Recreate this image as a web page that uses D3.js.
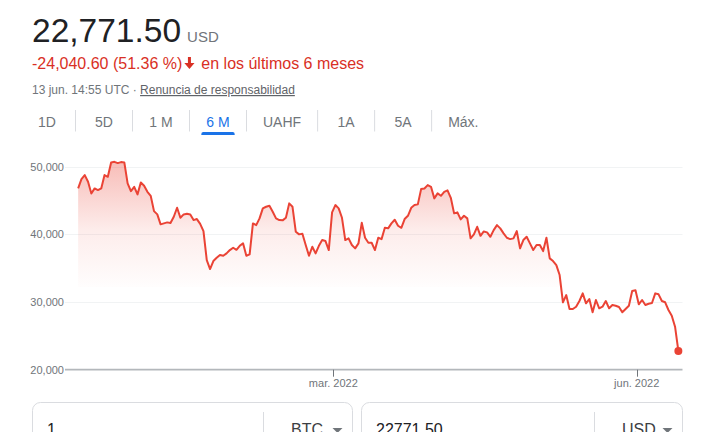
<!DOCTYPE html>
<html><head><meta charset="utf-8">
<script src="https://cdn.jsdelivr.net/npm/d3@7"></script>
<style>
html,body{margin:0;padding:0;background:#fff;overflow:hidden}
svg{display:block;font-family:"Liberation Sans",Arial,sans-serif}
</style></head><body>
<script>
// ---- data ----
const startDate = "2021-12-13";
const quoteTime = "14:55";
const prices = [46790,48170,48760,47770,46050,46790,46540,46790,48760,48510,
50630,50720,50530,50680,50630,47530,46390,47030,45910,47680,
47180,46290,45700,43440,42950,41480,41620,41770,41670,42600,
43930,42450,42950,43040,42950,42110,42260,41560,40490,36200,
34870,36060,36540,36940,36840,37190,37680,38020,37720,38310,
38670,36840,37040,41620,41370,42360,43840,44080,44220,43340,
42360,42110,42070,42450,44580,44080,40380,40000,40090,38420,
36840,38170,37190,38310,39160,39010,37680,43250,44330,43840,
42450,39160,39410,38420,37930,38670,41710,39500,38760,38760,
37680,39500,39300,40970,40890,41620,42160,41270,40970,42260,
42750,43930,44330,44430,46690,46790,47280,47030,45320,46050,
45700,46290,46500,45400,43100,43250,42210,42750,42360,39410,
40000,41120,39790,40430,40290,39640,40630,41370,40890,40150,
39500,39300,39410,40490,37930,39160,39640,38670,37680,38420,
38420,37530,39500,36450,36060,35460,33990,29960,31030,28970,
28970,29310,30150,31280,29810,30440,28480,30300,29070,29310,
30150,29070,29560,29450,29260,28480,28970,29450,31620,31730,
29660,30300,29560,29750,29850,31280,31140,30150,29960,28820,
27980,26350,22771.5];
const yTicks = [20000, 30000, 40000, 50000];
const xTickDates = ["2022-03-01", "2022-06-01"];
const xTickLabels = ["mar. 2022", "jun. 2022"];
const tabs = ["1D","5D","1 M","6 M","UAHF","1A","5A","Máx."];
const activeTab = "6 M";
const priceText = "22,771.50";
const currency = "USD";
const changeText = "-24,040.60 (51.36 %)";
const periodText = "en los últimos 6 meses";
const timeText = "13 jun. 14:55 UTC · ";
const linkText = "Renuncia de responsabilidad";
const fromAmount = "1", fromUnit = "BTC";
const toAmount = "22771.50", toUnit = "USD";

// ---- drawing ----
const W = 707, H = 432;
const parse = d3.timeParse("%Y-%m-%d");
const parseT = d3.timeParse("%Y-%m-%d %H:%M");
const t0 = parse(startDate);
const tq = parseT(startDate + " " + quoteTime);
const series = prices.map((v, i) => ({date: d3.timeDay.offset(tq, i), value: v}));

const svg = d3.select("body").append("svg").attr("width", W).attr("height", H);

const grey = "#70757a", dark = "#202124", red = "#d93025", lineRed = "#ea4335";

// header
const big = svg.append("text").attr("x", 32).attr("y", 42).attr("font-size", 33.5)
  .attr("fill", dark).text(priceText);
const bw = big.node().getComputedTextLength();
svg.append("text").attr("x", 32 + bw + 6).attr("y", 42).attr("font-size", 15)
  .attr("fill", grey).text(currency);

const ch = svg.append("text").attr("x", 32).attr("y", 69).attr("font-size", 16)
  .attr("fill", red).text(changeText);
const cw = ch.node().getComputedTextLength();
const ax = 32 + cw + 2;
svg.append("path")
  .attr("d", `M${ax+3.6},57 h3 v6 h3.6 l-5.1,6 l-5.1,-6 h3.6 z`)
  .attr("fill", red);
svg.append("text").attr("x", ax + 17).attr("y", 69).attr("font-size", 16)
  .attr("fill", red).text(periodText);

const info = svg.append("text").attr("x", 32).attr("y", 94).attr("font-size", 12).attr("fill", grey);
info.append("tspan").text(timeText);
info.append("tspan").attr("fill", "#5f6368").attr("text-decoration", "underline").text(linkText);

// tabs
let tx = 18.5;
tabs.forEach((t, i) => {
  const tt = svg.append("text").attr("y", 126.5).attr("font-size", 14)
    .attr("text-anchor", "middle")
    .attr("fill", t === activeTab ? "#1a73e8" : grey).text(t);
  const w = tt.node().getComputedTextLength();
  const tw = Math.max(57, w + 33);
  tt.attr("x", tx + tw / 2);
  if (t === activeTab) {
    const ux = tx + tw / 2 - (w + 10) / 2, uw = w + 10;
    svg.append("path")
      .attr("d", `M${ux},135 v-1 a2,2 0 0 1 2,-2 h${uw-4} a2,2 0 0 1 2,2 v1 z`)
      .attr("fill", "#1a73e8");
  }
  if (i < tabs.length - 1) {
    svg.append("line").attr("x1", tx + tw).attr("x2", tx + tw)
      .attr("y1", 110).attr("y2", 131.5).attr("stroke", "#dadce0").attr("stroke-width", 1);
  }
  tx += tw;
});

// chart scales
const x = d3.scaleTime().domain([t0, d3.timeDay.offset(t0, prices.length - 1)]).range([76.1, 676.3]);
const y = d3.scaleLinear().domain([20000, 50000]).range([369.7, 166.7]);
const gridL = 65, gridR = 682.5;

// gridlines
svg.append("g").selectAll("line").data(yTicks.filter(d => d !== 20000)).join("line")
  .attr("x1", gridL).attr("x2", gridR)
  .attr("y1", d => Math.round(y(d)) + 0.5).attr("y2", d => Math.round(y(d)) + 0.5)
  .attr("stroke", "#f1f3f4").attr("stroke-width", 1);

// y labels
svg.append("g").selectAll("text").data(yTicks).join("text")
  .attr("x", 64).attr("y", d => y(d)).attr("dy", "0.35em")
  .attr("text-anchor", "end").attr("font-size", 11).attr("fill", grey)
  .text(d => d3.format(",")(d));

// area gradient
const defs = svg.append("defs");
const grad = defs.append("linearGradient").attr("id", "fillGrad")
  .attr("gradientUnits", "userSpaceOnUse").attr("x1", 0).attr("x2", 0)
  .attr("y1", y(51000)).attr("y2", 287);
grad.append("stop").attr("offset", 0).attr("stop-color", lineRed).attr("stop-opacity", 0.36);
grad.append("stop").attr("offset", 0.55).attr("stop-color", lineRed).attr("stop-opacity", 0.1);
grad.append("stop").attr("offset", 1).attr("stop-color", lineRed).attr("stop-opacity", 0.01);

const areaBase = y.invert(287);
svg.append("path").datum(series)
  .attr("d", d3.area().x(d => x(d.date)).y0(y(areaBase)).y1(d => Math.min(y(d.value), y(areaBase))))
  .attr("fill", "url(#fillGrad)");

// axis line
svg.append("line").attr("x1", gridL).attr("x2", gridR)
  .attr("y1", y(20000)).attr("y2", y(20000))
  .attr("stroke", "#b3b7bb").attr("stroke-width", 1.7);

// x ticks
const xt = xTickDates.map((d, i) => ({date: parse(d), label: xTickLabels[i]}));
svg.append("g").selectAll("line").data(xt).join("line")
  .attr("x1", d => Math.round(x(d.date)) + 0.5).attr("x2", d => Math.round(x(d.date)) + 0.5)
  .attr("y1", y(20000)).attr("y2", y(20000) + 7)
  .attr("stroke", grey).attr("stroke-width", 1);
svg.append("g").selectAll("text").data(xt).join("text")
  .attr("x", d => x(d.date)).attr("y", 387)
  .attr("text-anchor", "middle").attr("font-size", 11).attr("fill", grey)
  .text(d => d.label);

// line
svg.append("path").datum(series)
  .attr("d", d3.line().x(d => x(d.date)).y(d => y(d.value)))
  .attr("fill", "none").attr("stroke", lineRed).attr("stroke-width", 2)
  .attr("stroke-linejoin", "round");
const last = series[series.length - 1];
svg.append("circle").attr("cx", x(last.date)).attr("cy", y(last.value)).attr("r", 4)
  .attr("fill", lineRed);

// converter boxes
function box(x0, x1, div, amount, unit) {
  svg.append("rect").attr("x", x0 + 0.5).attr("y", 402.5).attr("width", x1 - x0)
    .attr("height", 60).attr("rx", 8).attr("fill", "#fff").attr("stroke", "#dadce0");
  svg.append("line").attr("x1", div + 0.5).attr("x2", div + 0.5).attr("y1", 412).attr("y2", 440)
    .attr("stroke", "#dadce0");
  svg.append("text").attr("x", x0 + 15).attr("y", 434.5).attr("font-size", 16)
    .attr("fill", dark).text(amount);
  svg.append("text").attr("x", div + 28).attr("y", 434.5).attr("font-size", 16)
    .attr("fill", "#3c4043").text(unit);
  const axp = x1 - 14.5;
  svg.append("path").attr("d", `M${axp-5},428 h10 l-5,5 z`).attr("fill", grey);
}
box(32, 352, 263, fromAmount, fromUnit);
box(361, 682, 594, toAmount, toUnit);
</script>
</body></html>
